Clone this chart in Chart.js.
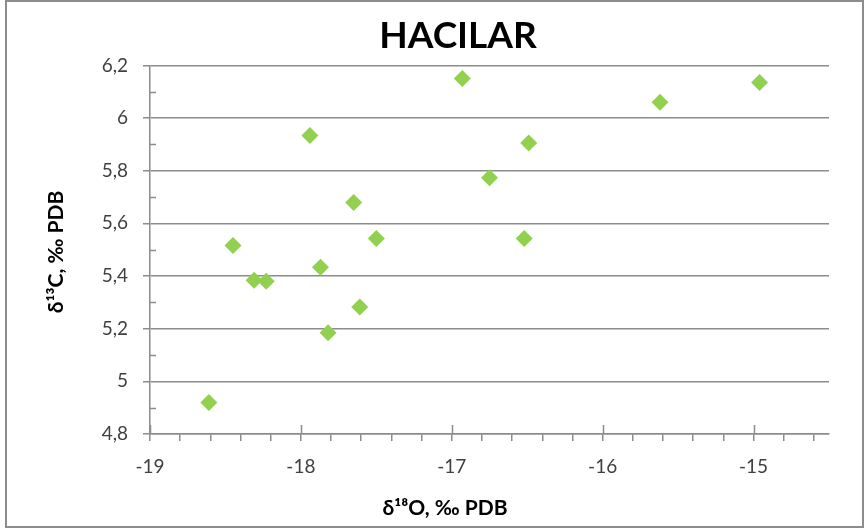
<!DOCTYPE html>
<html>
<head>
<meta charset="utf-8">
<script src="https://cdn.jsdelivr.net/npm/chart.js@4"></script>
<style>
  html, body { margin: 0; padding: 0; background: #fff; }
  #wrap { position: relative; width: 866px; height: 532px; }
  #frame { position: absolute; left: 5px; top: 0px; width: 855px; height: 524px; border: 2px solid #8c8c8c; pointer-events: none; }
</style>
</head>
<body>
<div id="wrap">
  <canvas id="myChart" width="866" height="532"></canvas>
  <div id="frame"></div>
</div>
<script>
// 데이터 (δ18O, δ13C)
var d18O = [-16.93, -15.62, -14.96, -17.94, -16.49, -16.75, -17.65, -18.45, -17.50, -16.52, -17.87, -18.31, -18.23, -17.61, -17.82, -18.61];
var d13C = [6.15, 6.06, 6.135, 5.934, 5.905, 5.773, 5.679, 5.516, 5.543, 5.543, 5.433, 5.384, 5.380, 5.282, 5.185, 4.92];

// 눈금
var xMajorTicks = [-19, -18, -17, -16, -15];
var yMajorTicks = [4.8, 5, 5.2, 5.4, 5.6, 5.8, 6, 6.2];

var xTitle = 'δ¹⁸O, ‰ PDB';
var yTitle = 'δ¹³C, ‰ PDB';

var gridGray = '#8c8c8c';
var fontName = 'Lato, "Open Sans", sans-serif';

function isMajor(v, list){
	for(var i=0;i<list.length;i++){
		if(Math.abs(list[i]-v) < 1e-6) return true;
	}
	return false;
}

// 보조 눈금 포함 눈금 목록 만들기
function buildTicks(list, step, max){
	var out = [];
	for(var i=0;i<list.length;i++){
		out.push({value: list[i], major: true});
		var next = (i < list.length-1) ? list[i+1] : max;
		for(var v=list[i]+step; v < next-1e-6; v+=step){
			out.push({value: Math.round(v*100)/100, major: false});
		}
	}
	return out;
}

var points = [];
for(var i=0;i<d18O.length;i++){
	points.push({x: d18O[i], y: d13C[i]});
}

// 제목 위치 + 보조 눈금 + 축 제목 그리기
var excelLook = {
	id: 'excelLook',
	afterLayout: function(chart){
		// 제목을 엑셀처럼 약간 오른쪽으로
		if(chart.titleBlock){
			chart.titleBlock.left = 87;
		}
	},
	afterDraw: function(chart){
		var c = chart.ctx;
		var area = chart.chartArea;
		var xs = chart.scales.x, ys = chart.scales.y;
		c.save();
		c.strokeStyle = gridGray;
		c.lineWidth = 1.5;
		c.beginPath();
		// y 보조 눈금: 안쪽
		ys.ticks.forEach(function(t){
			if(!t.major){
				var py = Math.round(ys.getPixelForValue(t.value)) + 0.5;
				c.moveTo(area.left, py);
				c.lineTo(area.left + 6, py);
			}
		});
		// x 주 눈금: 축을 가로지르게
		xs.ticks.forEach(function(t){
			if(t.major){
				var px = Math.round(xs.getPixelForValue(t.value)) + 0.5;
				c.moveTo(px, area.bottom);
				c.lineTo(px, area.bottom - 9);
			}
		});
		c.stroke();

		// 축 제목
		c.fillStyle = '#000';
		c.font = 'bold 21px ' + fontName;
		c.textAlign = 'center';
		c.textBaseline = 'middle';
		c.fillText(xTitle, 445, 508);
		c.translate(56, 252);
		c.rotate(-Math.PI/2);
		c.fillText(yTitle, 0, 0);
		c.restore();
	}
};

var ctx = document.getElementById('myChart').getContext('2d');
var myChart = new Chart(ctx, {
	type: 'scatter',
	data: {
		datasets: [{
			label: 'HACILAR',
			data: points,
			pointStyle: 'rectRot',
			pointRadius: 8.5,
			pointHoverRadius: 8.5,
			backgroundColor: '#92D050',
			borderColor: '#92D050',
			borderWidth: 0
		}]
	},
	options: {
		responsive: false,
		animation: false,
		layout: {
			padding: {left: 0, right: 37, top: 0, bottom: 0}
		},
		plugins: {
			legend: {display: false},
			tooltip: {enabled: false},
			title: {
				display: true,
				text: 'HACILAR',
				color: '#000',
				font: {family: fontName, size: 37, weight: 'bold', lineHeight: 1.2},
				padding: {top: 14, bottom: 7}
			}
		},
		scales: {
			x: {
				type: 'linear',
				min: -19,
				max: -14.5,
				afterBuildTicks: function(scale){
					scale.ticks = buildTicks(xMajorTicks, 0.2, -14.5);
				},
				afterFit: function(scale){
					scale.height = 98;
				},
				ticks: {
					autoSkip: false,
					maxRotation: 0,
					padding: 14,
					color: '#404040',
					font: {family: fontName, size: 19},
					callback: function(value){
						return isMajor(value, xMajorTicks) ? String(value) : '';
					}
				},
				grid: {
					drawOnChartArea: false,
					tickLength: 7,
					tickColor: gridGray,
					lineWidth: 1.5
				},
				border: {color: gridGray, width: 1.5}
			},
			y: {
				type: 'linear',
				min: 4.8,
				max: 6.2,
				afterBuildTicks: function(scale){
					scale.ticks = buildTicks(yMajorTicks, 0.1, 6.2);
				},
				afterFit: function(scale){
					scale.width = 150;
				},
				ticks: {
					autoSkip: false,
					padding: 15,
					color: '#404040',
					font: {family: fontName, size: 19},
					callback: function(value){
						return isMajor(value, yMajorTicks) ? String(value).replace('.', ',') : '';
					}
				},
				grid: {
					tickLength: 7,
					lineWidth: 1.5,
					color: function(c){
						return (c.tick && c.tick.major) ? gridGray : 'rgba(0,0,0,0)';
					},
					tickColor: function(c){
						return (c.tick && c.tick.major) ? gridGray : 'rgba(0,0,0,0)';
					}
				},
				border: {color: gridGray, width: 1.5}
			}
		}
	},
	plugins: [excelLook]
});
</script>
</body>
</html>
